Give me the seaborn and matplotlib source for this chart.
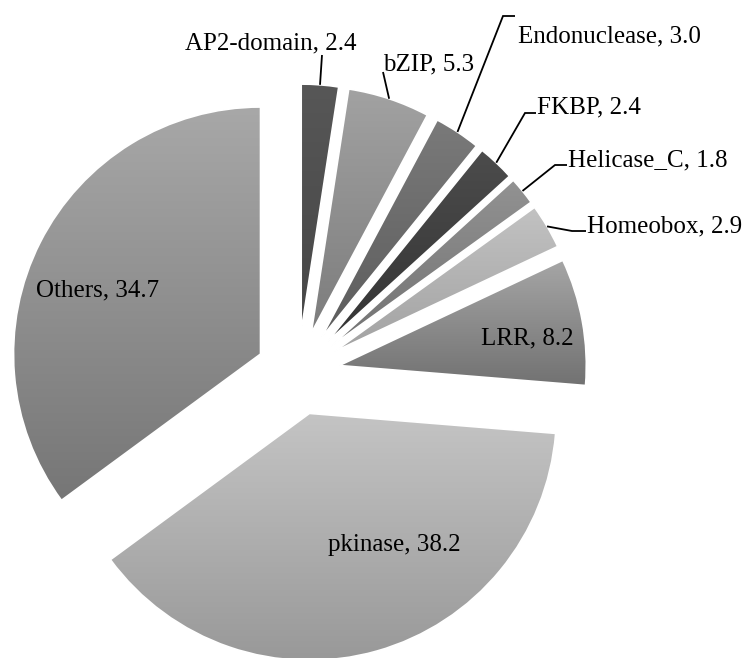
import numpy as np
import matplotlib
matplotlib.use("Agg")
import matplotlib.pyplot as plt
import seaborn as sns

# Share of each protein domain family (%)
domains = ["AP2-domain", "bZIP", "Endonuclease", "FKBP", "Helicase_C",
           "Homeobox", "LRR", "pkinase", "Others"]
percent = [2.4, 5.3, 3.0, 2.4, 1.8, 2.9, 8.2, 38.2, 34.7]

# Grey level (0-255) at the top and bottom of each slice's gradient fill
shade_top = [0x57, 0xa2, 0x7a, 0x4c, 0x92, 0xc2, 0xa6, 0xc4, 0xa8]
shade_bottom = [0x46, 0x7c, 0x5c, 0x34, 0x72, 0xa2, 0x72, 0x98, 0x76]

sns.set_theme(style="white")
plt.rcParams["font.family"] = ["Liberation Serif", "DejaVu Serif"]

W, H = 745, 658
fig = plt.figure(figsize=(W / 100, H / 100), dpi=100)
ax = fig.add_axes([0, 0, 1, 1])

R = 247
CX, CY = 298, H - 373
wedges, _ = ax.pie(percent, startangle=90, counterclock=False, radius=R,
                   center=(CX, CY), explode=[42] * len(percent),
                   wedgeprops=dict(linewidth=0), frame=False)

# Vertical gradient inside each wedge
for w, top, bot in zip(wedges, shade_top, shade_bottom):
    verts = w.get_path().vertices
    x0, y0 = verts.min(axis=0)
    x1, y1 = verts.max(axis=0)
    g = np.linspace(top, bot, 256) / 255.0
    img = np.repeat(g[:, None, None], 3, axis=2)
    im = ax.imshow(img, extent=(x0, x1, y0, y1), origin="upper",
                   aspect="auto", interpolation="bilinear", zorder=1)
    im.set_clip_path(w)
    w.set_facecolor("none")
    w.set_edgecolor("white")
    w.set_linewidth(1.2)
    w.set_zorder(2)


def px(x, y):
    return x, H - y


def arc_mid(w):
    t = np.deg2rad(0.5 * (w.theta1 + w.theta2))
    cx, cy = w.center
    return cx + w.r * np.cos(t), cy + w.r * np.sin(t)


labels = [f"{d}, {v:.1f}" for d, v in zip(domains, percent)]
FS = 18

# Outside labels: (text x, baseline y, leader path after the arc point)
outside = {
    0: ((185, 49), [(322, 55)]),
    1: ((383, 70), [(383, 72)]),
    2: ((518, 42), [(503, 16), (515, 16)]),
    3: ((537, 113), [(525, 113), (536, 113)]),
    4: ((568, 166), [(555, 165), (567, 165)]),
    5: ((587, 232), [(572, 231), (586, 231)]),
}
for i, ((tx, ty), path) in outside.items():
    ax.text(*px(tx, ty), labels[i], ha="left", va="baseline",
            fontsize=FS, color="black", zorder=4)
    pts = [arc_mid(wedges[i])] + [px(x, y) for x, y in path]
    xs, ys = zip(*pts)
    ax.plot(xs, ys, color="black", lw=1.3, zorder=3,
            solid_capstyle="butt", solid_joinstyle="miter")

# Labels drawn inside the large slices
inside = {6: (527, 338), 7: (394, 545), 8: (98, 290)}
for i, (tx, ty) in inside.items():
    ax.text(*px(tx, ty), labels[i], ha="center", va="center",
            fontsize=FS, color="black", zorder=4)

ax.set_xlim(0, W)
ax.set_ylim(0, H)
ax.set_aspect("equal")
ax.axis("off")
fig.savefig("out.png", dpi=100, facecolor="white")
